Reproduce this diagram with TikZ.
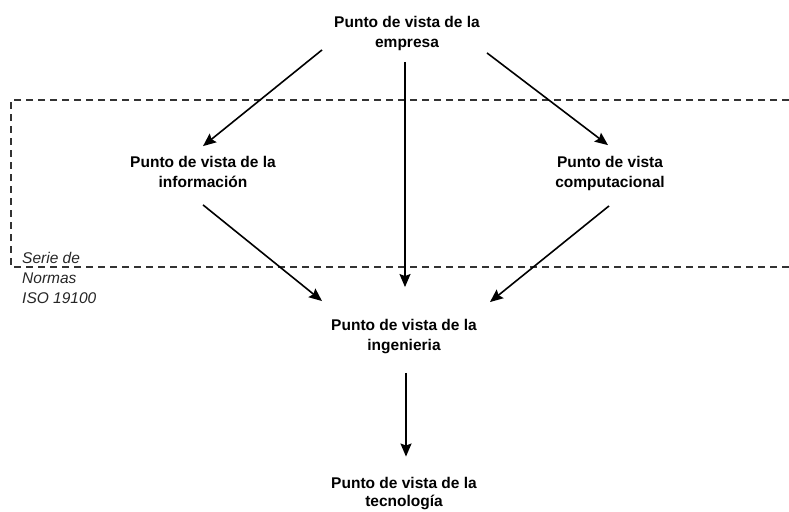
\documentclass[tikz,border=0pt]{standalone}
\usepackage{fontspec}
\setmainfont{Liberation Sans}
\usetikzlibrary{arrows.meta, positioning, calc}

\begin{document}
\begin{tikzpicture}[x=1pt, y=-1pt,
  view/.style={font=\fontsize{15.5}{20}\selectfont\bfseries, align=center, inner sep=2pt},
  flow/.style={-{Stealth[length=13pt, width=11pt, inset=2pt]}, line width=1.6pt},
  normframe/.style={dash pattern=on 7pt off 5pt, line width=1.3pt, black!80}]
  \useasboundingbox (0,0) rectangle (789,511);

  % Standards frame
  \draw[normframe] (789,100) -| (11,267) -- (789,267);
  \node[font=\fontsize{15.5}{20}\selectfont\itshape, align=left, anchor=north west, inner sep=0pt, text=black!85] (serie) at (22,252) {Serie de\\Normas\\ISO 19100};

  % Viewpoints
  \node[view] (emp) at (407,33.5) {Punto de vista de la\\empresa};
  \node[view] (inf) at (203,172) {Punto de vista de la\\información};
  \node[view] (com) at (610,173.5) {Punto de vista\\computacional};
  \node[view] (ing) at (404,336.5) {Punto de vista de la\\ingenieria};
  \node[view, font=\fontsize{15.5}{18}\selectfont\bfseries] (tec) at (404,494) {Punto de vista de la\\tecnología};

  % Arrows
  \draw[flow] ([xshift=-10pt, yshift=3pt]emp.south west) -- ([yshift=8pt]inf.north);
  \draw[flow] ([xshift=5pt]emp.south east) -- ([xshift=-2pt, yshift=9pt]com.north);
  \draw[flow] ([xshift=-2pt, yshift=-9pt]emp.south) -- ([xshift=1pt, yshift=30pt]ing.north);
  \draw[flow] ([yshift=-15pt]inf.south) -- ([xshift=-7pt, yshift=16pt]ing.north west);
  \draw[flow] ([xshift=-1pt, yshift=-13pt]com.south) -- ([xshift=11pt, yshift=15pt]ing.north east);
  \draw[flow] ([xshift=2pt, yshift=-17pt]ing.south) -- ([xshift=2pt, yshift=19pt]tec.north);
\end{tikzpicture}
\end{document}
